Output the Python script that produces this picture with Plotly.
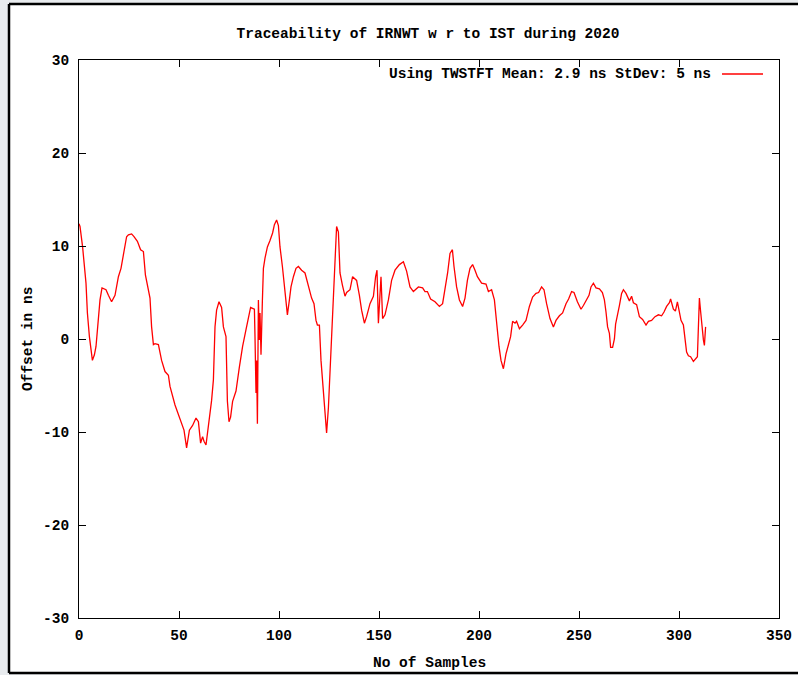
import plotly.graph_objects as go

# Sample index and offset (ns)
samples = [0, 0.5, 1.8, 2.5, 3.5, 4.2, 5.2, 6.7, 7.7, 8.5, 9.7, 10.5, 11.5, 13.5, 14.7, 16.3, 18, 19.7, 21, 22.2,
           23.8, 24.7, 26.3, 27.5, 29.2, 30.8, 32.2, 33.2, 34.7, 35.5, 36.3, 37.2, 38, 39.7, 41.3, 43, 44.7, 45.5,
           48, 50.5, 52.5, 53.8, 55.2, 56.8, 58.5, 59.7, 60.8, 61.8, 62.5, 63.5, 64.7, 66.3, 67.2, 68, 68.8, 70,
           71.3, 72.2, 73.5, 74.2, 75, 75.8, 76.8, 78.5, 80.2, 81.8, 83.5, 84.7, 85.8, 86.8, 87.7, 88, 88.5, 88.8,
           89.2, 89.7, 90.2, 90.5, 91, 91.7, 92.2, 93, 94.2, 95.5, 96.8, 97.7, 98.8, 99.7, 100.5, 101.7, 102.5,
           103.5, 104.2, 105.2, 106, 107.2, 108.5, 109.7, 111.3, 113, 114.7, 116.3, 117.5, 118.5, 119.2, 120.2,
           121, 122.2, 123, 123.8, 124.7, 125.5, 126.3, 127.2, 128, 128.8, 129.7, 130.5, 131.7, 133, 133.8,
           135.5, 136.8, 138, 138.8, 140.2, 141.3, 142.7, 143.8, 145.5, 147.2, 148.3, 149, 149.7, 150.5, 151,
           151.8, 153, 154.7, 156.3, 158, 160.2, 162.2, 163.8, 165.5, 167.2, 169.7, 171.8, 173, 174.2, 175.8,
           178, 180.2, 181.8, 183, 184.3, 185.5, 186.7, 187.5, 188.8, 190.2, 191.8, 193, 194.2, 195.5, 196.8,
           198, 199.2, 201.3, 203.5, 204.7, 206.3, 207.7, 208.8, 210, 211, 212.2, 213.5, 214.7, 215.8, 216.8,
           218, 218.8, 220.2, 221.8, 223.5, 225.2, 226.8, 228.5, 229.8, 231.3, 232.5, 233.8, 235.5, 237.2,
           238.5, 240.2, 241.8, 243.5, 244.8, 246.3, 247.5, 249.2, 251, 252.2, 253.8, 255, 256, 257.2, 258.5,
           260.2, 261.7, 262.7, 263.5, 264.3, 265.2, 265.8, 266.8, 267.7, 268.3, 269.3, 270.2, 271.3, 272.2,
           273.5, 275.2, 276.3, 277.2, 278.8, 280.2, 281.8, 283.5, 284.7, 286.3, 288, 289.7, 291.3, 292.5,
           293.8, 295.2, 295.8, 297.2, 298.2, 299.2, 300.2, 301, 302.2, 303, 303.8, 304.7, 305.8, 307.2,
           308.3, 309.2, 309.7, 310.2, 310.7, 311.3, 312.2, 312.7, 313.3]
offset_ns = [12.4, 12.1, 9.9, 8.3, 6.0, 2.8, 0.25, -2.3, -1.7, -0.8, 2.6, 4.2, 5.5, 5.3, 4.7, 4.0, 4.7, 6.7, 7.6, 9.0,
             11.0, 11.2, 11.3, 11.0, 10.5, 9.6, 9.4, 6.9, 5.5, 4.4, 1.3, -0.6, -0.5, -0.6, -2.3, -3.5, -3.9, -5.1,
             -7.1, -8.5, -9.8, -11.7, -9.8, -9.3, -8.5, -8.9, -11.2, -10.5, -11.0, -11.4, -9.4, -6.6, -4.4, 1.3, 3.1, 4.0,
             3.4, 1.3, 0.25, -6.7, -8.9, -8.4, -6.7, -5.6, -3.0, -0.8, 1.0, 2.4, 3.4, 3.3, 3.2, 0.25, -5.8, -2.3,
             -9.1, 4.2, -0.1, 2.8, -1.7, 4.2, 7.6, 8.7, 9.9, 10.6, 11.4, 12.3, 12.8, 12.2, 9.9, 7.8, 6.0,
             3.5, 2.6, 4.2, 5.6, 6.7, 7.6, 7.8, 7.4, 7.1, 5.8, 4.4, 3.8, 2.0, 1.5, 1.5,
             -2.3, -5.5, -7.5, -10.1, -7.4, -3.7, -0.5, 4.2, 8.1, 12.1, 11.5, 7.1, 5.8, 4.6, 5.0,
             5.3, 6.7, 6.5, 6.3, 4.7, 3.1, 1.7, 2.4, 3.8, 4.6, 6.7, 7.4, 1.7, 5.0, 6.7,
             2.2, 2.6, 4.2, 6.3, 7.4, 8.0, 8.3, 7.3, 5.6, 5.1, 5.6, 5.5, 5.1, 5.1, 4.3,
             4.0, 3.5, 3.8, 5.4, 7.1, 9.2, 9.6, 7.8, 5.6, 4.2, 3.5, 4.4, 6.3, 7.6, 8.0,
             7.4, 6.7, 6.0, 5.9, 5.1, 5.3, 4.2, 1.7, -0.8, -2.3, -3.2, -1.6, -0.5, 0.25, 1.9,
             1.7, 1.9, 1.1, 1.5, 2.0, 3.5, 4.5, 4.9, 5.0, 5.6, 5.3, 3.8, 2.2, 1.3,
             2.0, 2.5, 2.8, 3.8, 4.3, 5.1, 5.0, 4.0, 3.2, 3.6, 4.2, 4.7, 5.6, 6.0, 5.5,
             5.4, 5.0, 4.2, 2.9, 1.3, 0.6, -0.9, -0.9, 0.0, 1.6, 2.9, 3.6, 4.9, 5.3,
             4.9, 4.1, 4.6, 3.9, 3.7, 2.4, 2.1, 1.5, 1.9, 2.0, 2.4, 2.6, 2.5, 2.9,
             3.5, 3.9, 4.3, 3.2, 3.0, 4.0, 2.9, 2.0, 1.5, 0.25, -1.4, -1.8, -1.9, -2.4,
             -2.1, -1.9, 1.3, 4.4, 3.2, 1.6, -0.1, -0.7, 1.3]

title_text = "Traceability of IRNWT w r to IST during 2020"
legend_text = "Using TWSTFT Mean: 2.9 ns StDev: 5 ns"
x_title = "No of Samples"
y_title = "Offset in ns"
x_ticks = [0, 50, 100, 150, 200, 250, 300, 350]
y_ticks = [-30, -20, -10, 0, 10, 20, 30]
y_tick_labels = ["-30", "-20", "-10", "0", "10", "20", "30"]

FONT = "Liberation Mono"
font = dict(family=FONT, size=14.5, color="black", weight="bold")

# plot area in pixels: x 79..779, y 60..618
L, R, T, B = 79, 19, 60, 57
W, H = 798, 675
pw, ph = W - L - R, H - T - B


def px_x(px):
    return (px - L) / pw


def px_y(py):
    return (H - B - py) / ph


fig = go.Figure()
fig.add_trace(go.Scatter(x=samples, y=offset_ns, mode="lines",
                         line=dict(color="#ff0000", width=1.3),
                         name=legend_text, showlegend=False))

axis_common = dict(showgrid=False, zeroline=False, showline=True, linecolor="black", linewidth=1,
                   mirror="allticks", ticks="inside", ticklen=7, tickcolor="black",
                   tickfont=font, automargin=False)

frame_line = dict(color="black", width=2.5)
fig.update_layout(
    width=W, height=H, autosize=False,
    margin=dict(l=L, r=R, t=T, b=B, autoexpand=False),
    paper_bgcolor="#e8ebee",
    plot_bgcolor="white",
    title=dict(text=title_text, font=font, x=(428) / W, xanchor="center",
               y=1 - 33 / H, yanchor="middle"),
    xaxis=dict(range=[0, 350], tickvals=x_ticks, ticklabelstandoff=4, **axis_common),
    yaxis=dict(range=[-30, 30], tickvals=y_ticks, ticktext=y_tick_labels, ticklabelstandoff=6,
               **axis_common),
    shapes=[
        dict(type="rect", xref="paper", yref="paper", layer="below",
             x0=px_x(9), x1=px_x(W), y0=px_y(673), y1=px_y(4),
             fillcolor="white", line=dict(width=0)),
        dict(type="line", xref="paper", yref="paper", layer="below",
             x0=px_x(9), x1=px_x(W), y0=px_y(4), y1=px_y(4), line=frame_line),
        dict(type="line", xref="paper", yref="paper", layer="below",
             x0=px_x(9), x1=px_x(W), y0=px_y(673), y1=px_y(673), line=frame_line),
        dict(type="line", xref="paper", yref="paper", layer="below",
             x0=px_x(9), x1=px_x(9), y0=px_y(673), y1=px_y(4), line=frame_line),
        dict(type="line", xref="paper", yref="paper",
             x0=px_x(722), x1=px_x(763), y0=px_y(74), y1=px_y(74),
             line=dict(color="#ff0000", width=1.5)),
    ],
    annotations=[
        dict(text=legend_text, xref="paper", yref="paper", x=px_x(713), y=px_y(74),
             xanchor="right", yanchor="middle", showarrow=False, font=font),
        dict(text=x_title, xref="paper", yref="paper", x=px_x(429), y=px_y(663),
             xanchor="center", yanchor="middle", showarrow=False, font=font),
        dict(text=y_title, xref="paper", yref="paper", x=px_x(28), y=px_y(339),
             xanchor="center", yanchor="middle", showarrow=False, font=font, textangle=-90),
    ],
)

fig.write_html("out.html", config={"displayModeBar": False, "responsive": False},
               post_script="document.body.style.margin='0px';document.body.style.overflow='hidden';")
